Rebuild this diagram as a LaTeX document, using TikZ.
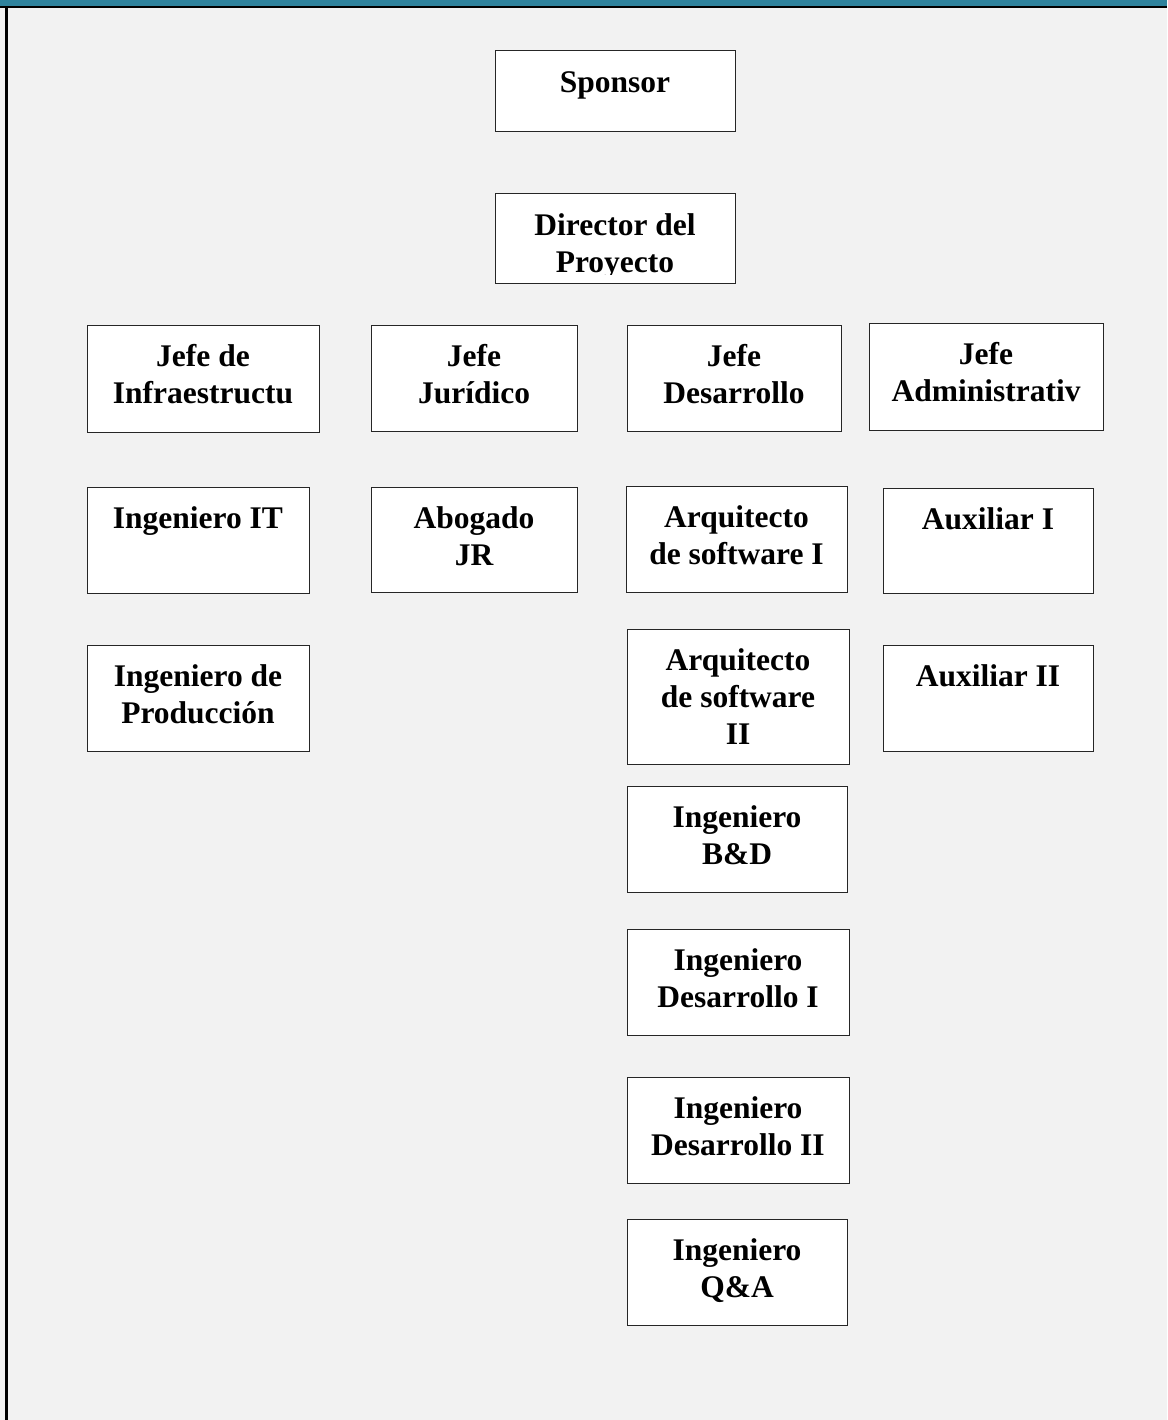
\documentclass[tikz,border=0pt]{standalone}
\usepackage{fontspec}
\setmainfont{Liberation Serif}
\usetikzlibrary{positioning}
\definecolor{fondo}{RGB}{242,242,242}
\definecolor{franja}{RGB}{47,131,157}
\begin{document}
\begin{tikzpicture}[x=1pt, y=-1pt,
	caja/.style={draw=black!85, line width=1pt, fill=white},
	rotulo/.style={font=\fontsize{31.5}{37}\selectfont\bfseries, align=center, inner sep=0pt}]
	% fondo y marco
	\useasboundingbox (0,0) rectangle (1167,1420);
	\fill[fondo] (0,0) rectangle (1167,1420);
	\fill[franja] (0,0) rectangle (1167,6);
	\fill[black] (0,6) rectangle (1167,8.5);
	\fill[black] (5,6) rectangle (7.5,1420);
	% nivel 1 y 2
	\node[caja, minimum width=240pt, minimum height=81pt] (sponsor) at (615,91.5) {};
	\node[rotulo, below=16pt of sponsor.north] (sponsor-t) {\strut Sponsor};
	\node[caja, minimum width=240pt, minimum height=90pt] (director) at (615,239) {};
	\begin{scope}
		\clip (495,194) rectangle (735,274.5);
		\node[rotulo, below=16pt of director.north] (director-t) {\strut Director del\\Proyecto};
	\end{scope}
	% jefes
	\node[caja, minimum width=232pt, minimum height=107pt] (jinfra) at (203,378.5) {};
	\node[rotulo, below=16pt of jinfra.north] (jinfra-t) {\strut Jefe de\\Infraestructu};
	\node[caja, minimum width=206pt, minimum height=106pt] (jjur) at (474,378) {};
	\node[rotulo, below=16pt of jjur.north] (jjur-t) {\strut Jefe\\Jurídico};
	\node[caja, minimum width=214pt, minimum height=106pt] (jdes) at (734,378) {};
	\node[rotulo, below=16pt of jdes.north] (jdes-t) {\strut Jefe\\Desarrollo};
	\node[caja, minimum width=234pt, minimum height=107pt] (jadm) at (986,376.5) {};
	\node[rotulo, below=16pt of jadm.north] (jadm-t) {\strut Jefe\\Administrativ};
	% infraestructura
	\node[caja, minimum width=222pt, minimum height=106pt] (ingit) at (198,540) {};
	\node[rotulo, below=16pt of ingit.north] (ingit-t) {\strut Ingeniero IT};
	\node[caja, minimum width=222pt, minimum height=106pt] (ingprod) at (198,698) {};
	\node[rotulo, below=16pt of ingprod.north] (ingprod-t) {\strut Ingeniero de\\Producción};
	% juridico
	\node[caja, minimum width=206pt, minimum height=105pt] (abog) at (474,539.5) {};
	\node[rotulo, below=16pt of abog.north] (abog-t) {\strut Abogado\\JR};
	% desarrollo
	\node[caja, minimum width=221pt, minimum height=106pt] (arq1) at (736.5,539) {};
	\node[rotulo, below=16pt of arq1.north] (arq1-t) {\strut Arquitecto\\de software I};
	\node[caja, minimum width=222pt, minimum height=135pt] (arq2) at (738,696.5) {};
	\node[rotulo, below=16pt of arq2.north] (arq2-t) {\strut Arquitecto\\de software\\II};
	\node[caja, minimum width=220pt, minimum height=106pt] (ingbd) at (737,839) {};
	\node[rotulo, below=16pt of ingbd.north] (ingbd-t) {\strut Ingeniero\\B\&D};
	\node[caja, minimum width=222pt, minimum height=106pt] (ingdes1) at (738,982) {};
	\node[rotulo, below=16pt of ingdes1.north] (ingdes1-t) {\strut Ingeniero\\Desarrollo I};
	\node[caja, minimum width=222pt, minimum height=106pt] (ingdes2) at (738,1130) {};
	\node[rotulo, below=16pt of ingdes2.north] (ingdes2-t) {\strut Ingeniero\\Desarrollo II};
	\node[caja, minimum width=220pt, minimum height=106pt] (ingqa) at (737,1272) {};
	\node[rotulo, below=16pt of ingqa.north] (ingqa-t) {\strut Ingeniero\\Q\&A};
	% administrativo
	\node[caja, minimum width=210pt, minimum height=105pt] (aux1) at (988,540.5) {};
	\node[rotulo, below=16pt of aux1.north] (aux1-t) {\strut Auxiliar I};
	\node[caja, minimum width=210pt, minimum height=106pt] (aux2) at (988,698) {};
	\node[rotulo, below=16pt of aux2.north] (aux2-t) {\strut Auxiliar II};
\end{tikzpicture}
\end{document}
